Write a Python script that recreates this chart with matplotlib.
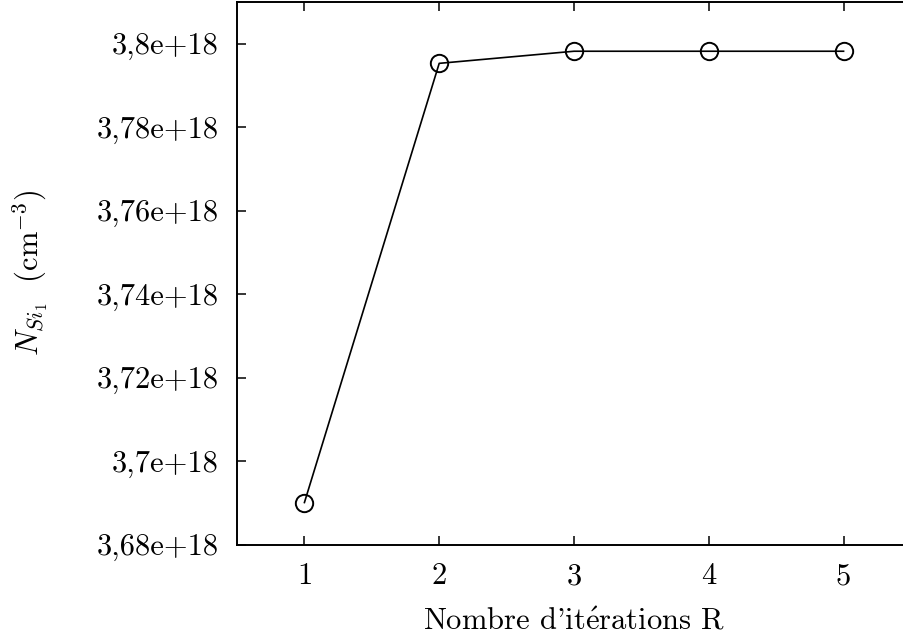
import matplotlib
matplotlib.use("Agg")
import matplotlib.pyplot as plt

# iterations and resulting N_Si1 (cm^-3)
iterations = [1, 2, 3, 4, 5]
n_si1 = [3.6901e18, 3.7953e18, 3.7982e18, 3.7982e18, 3.7982e18]

yticks = [3.68e18, 3.70e18, 3.72e18, 3.74e18, 3.76e18, 3.78e18, 3.80e18]
ytick_labels = ["3,68e+18", "3,7e+18", "3,72e+18", "3,74e+18", "3,76e+18", "3,78e+18", "3,8e+18"]
xticks = [1, 2, 3, 4, 5]

plt.rcParams['mathtext.fontset'] = 'cm'
plt.rcParams['font.family'] = ['cmr10', 'DejaVu Serif']
plt.rcParams['axes.unicode_minus'] = False

fig = plt.figure(figsize=(9.04, 6.37), dpi=100)
# plot area runs slightly past the right edge, as in the original
ax = fig.add_axes([0.2622, 0.1449, 0.7455, 0.852])

ax.plot(iterations, n_si1, color='black', linewidth=1.2,
        marker='o', markersize=12.5, markerfacecolor='none',
        markeredgewidth=1.4, markeredgecolor='black')

ax.set_xlim(0.5, 5.5)
ax.set_ylim(3.68e18, 3.81e18)
ax.set_xticks(xticks)
ax.set_xticklabels([str(v) for v in xticks])
ax.set_yticks(yticks)
ax.set_yticklabels(ytick_labels)

ax.tick_params(direction='in', length=6.5, width=1.1, top=True, right=False,
               labelsize=22, pad=13)
for s in ax.spines.values():
    s.set_linewidth(1.4)

ax.set_xlabel(r"Nombre d'it$\acute{\mathrm{e}}$rations R", fontsize=22, labelpad=13)
ax.set_ylabel(r"$N_{Si_1}\ \ (\mathrm{cm}^{-3})$", fontsize=22, labelpad=34)

fig.savefig("out.png", dpi=100)
